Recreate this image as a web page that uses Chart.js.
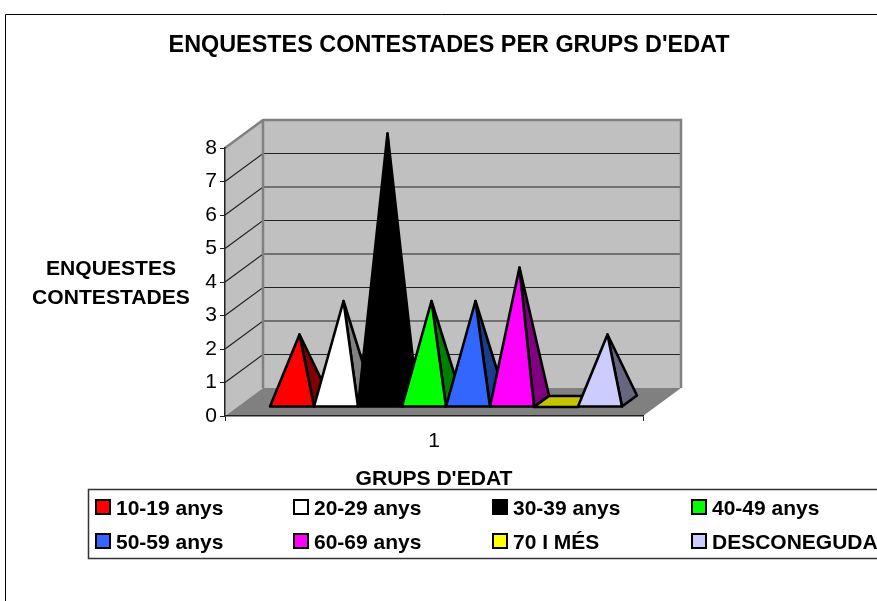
<!DOCTYPE html>
<html>
<head>
<meta charset="utf-8">
<title>Enquestes contestades per grups d'edat</title>
<script src="https://cdn.jsdelivr.net/npm/chart.js@4"></script>
<style>
    html, body { margin: 0; padding: 0; background: #fff; overflow: hidden; }
    canvas { display: block; }
</style>
</head>
<body>
<canvas id="edatChart" width="877" height="601"></canvas>
<script>
// Chart data
const categories = ['1'];
const ageGroups = ['10-19 anys', '20-29 anys', '30-39 anys', '40-49 anys',
                   '50-59 anys', '60-69 anys', '70 I MÉS', 'DESCONEGUDA'];
const responses = [2, 3, 8, 3, 3, 4, 0, 2];
const yTicks = [0, 1, 2, 3, 4, 5, 6, 7, 8];

const chartTitle = "ENQUESTES CONTESTADES PER GRUPS D'EDAT";
const xAxisTitle = "GRUPS D'EDAT";
const yAxisTitle = ['ENQUESTES', 'CONTESTADES'];

// Face colours of each pyramid
const frontColors = ['#FF0000', '#FFFFFF', '#000000', '#00FF00', '#3366FF', '#FF00FF', '#FFFF00', '#CCCCFF'];
const sideColors = ['#800000', '#808080', '#000000', '#008000', '#1A3D8C', '#800080', '#C4C400', '#666680'];

const FONT = '"Liberation Sans", Arial, sans-serif';

// Depth of the fake 3D box and of the pyramids, in pixels
const BOX_DX = 38, BOX_DY = 28;
const PYR_DX = 15, PYR_DY = 11;
const PYR_SHIFT_X = 12, PYR_SHIFT_Y = 9;

function poly(c, pts, fill, stroke, width) {
    c.beginPath();
    pts.forEach((p, i) => i ? c.lineTo(p[0], p[1]) : c.moveTo(p[0], p[1]));
    c.closePath();
    if (fill) { c.fillStyle = fill; c.fill(); }
    if (stroke) { c.strokeStyle = stroke; c.lineWidth = width; c.lineJoin = 'round'; c.stroke(); }
}

// Frame, walls, floor, titles and legend
const boxPlugin = {
    id: 'box3d',
    beforeDraw(chart) {
        const c = chart.ctx, y = chart.scales.y, a = chart.chartArea;
        const l = a.left, r = a.right, t = y.getPixelForValue(8), b = y.getPixelForValue(0);
        c.save();

        // outer frame (only top and left are inside the picture)
        c.strokeStyle = '#000';
        c.lineWidth = 1;
        c.beginPath();
        c.moveTo(5.5, 601);
        c.lineTo(5.5, 14.5);
        c.lineTo(877, 14.5);
        c.stroke();

        // walls
        poly(c, [[l, t], [l + BOX_DX, t - BOX_DY], [l + BOX_DX, b - BOX_DY], [l, b]], '#C0C0C0');
        poly(c, [[l + BOX_DX, t - BOX_DY], [r + BOX_DX, t - BOX_DY], [r + BOX_DX, b - BOX_DY], [l + BOX_DX, b - BOX_DY]], '#C0C0C0');
        poly(c, [[l, b], [l + BOX_DX, b - BOX_DY], [r + BOX_DX, b - BOX_DY], [r, b]], '#808080');

        // gridlines on both walls
        c.strokeStyle = '#222';
        c.lineWidth = 1.2;
        yTicks.slice(1, -1).forEach(v => {
            const py = y.getPixelForValue(v);
            c.beginPath();
            c.moveTo(l, py);
            c.lineTo(l + BOX_DX, py - BOX_DY);
            c.lineTo(r + BOX_DX, py - BOX_DY);
            c.stroke();
        });

        // wall edges
        c.strokeStyle = '#808080';
        c.lineWidth = 2.5;
        c.beginPath();
        c.moveTo(l, t);
        c.lineTo(l + BOX_DX, t - BOX_DY);
        c.lineTo(r + BOX_DX, t - BOX_DY);
        c.lineTo(r + BOX_DX, b - BOX_DY);
        c.moveTo(l + BOX_DX, t - BOX_DY);
        c.lineTo(l + BOX_DX, b - BOX_DY);
        c.stroke();

        // titles
        c.fillStyle = '#000';
        c.textBaseline = 'middle';
        c.textAlign = 'center';
        c.font = 'bold 23.4px ' + FONT;
        c.fillText(chartTitle, 449, 46);
        c.font = 'bold 21.1px ' + FONT;
        c.fillText(yAxisTitle[0], 111, 269);
        c.fillText(yAxisTitle[1], 111, 298);

        // legend
        c.strokeStyle = '#333';
        c.lineWidth = 1.5;
        c.strokeRect(88.5, 489.5, 900, 69);
        c.textAlign = 'left';
        c.font = 'bold 21px ' + FONT;
        const colX = [95, 293, 492, 691], rowY = [507, 541];
        ageGroups.forEach((name, i) => {
            const x = colX[i % 4], ry = rowY[Math.floor(i / 4)];
            c.fillStyle = frontColors[i];
            c.fillRect(x + 1, ry - 7, 14, 14);
            c.strokeStyle = '#000';
            c.lineWidth = 2;
            c.strokeRect(x + 1, ry - 7, 14, 14);
            c.fillStyle = '#000';
            c.fillText(name, x + 21, ry + 2);
        });
        c.restore();
    },
    // pyramids replace the normal bars
    beforeDatasetsDraw(chart) {
        const c = chart.ctx;
        c.save();
        chart.data.datasets.forEach((ds, i) => {
            const bar = chart.getDatasetMeta(i).data[0];
            const x0 = bar.x - bar.width / 2 + PYR_SHIFT_X;
            const x1 = bar.x + bar.width / 2 + PYR_SHIFT_X;
            const by = bar.base - PYR_SHIFT_Y;
            const ax = bar.x + PYR_SHIFT_X + PYR_DX / 2;
            const ay = bar.y - PYR_SHIFT_Y - PYR_DY / 2;
            const backR = [x1 + PYR_DX, by - PYR_DY], backL = [x0 + PYR_DX, by - PYR_DY];
            if (ds.data[0] === 0) {
                // nothing to raise, only the flat top shows
                poly(c, [[x0, by], [x1, by], backR, backL], sideColors[i], '#000', 2.6);
                return;
            }
            poly(c, [[x1, by], backR, [ax, ay]], sideColors[i], '#000', 2.6);
            poly(c, [[x0, by], [x1, by], [ax, ay]], frontColors[i], '#000', 2.6);
        });
        c.restore();
        return false;
    }
};

new Chart(document.getElementById('edatChart'), {
    type: 'bar',
    data: {
        labels: categories,
        datasets: ageGroups.map((name, i) => ({
            label: name,
            data: [responses[i]],
            backgroundColor: frontColors[i],
            barPercentage: 1,
            categoryPercentage: 0.842
        }))
    },
    options: {
        responsive: false,
        animation: false,
        layout: { padding: { left: 165, right: 234, top: 148, bottom: 109 } },
        plugins: {
            legend: { display: false },
            title: { display: false },
            tooltip: { enabled: false }
        },
        scales: {
            x: {
                afterFit(scale) { scale.height = 76; },
                border: { color: '#222', width: 1.5 },
                grid: { drawOnChartArea: false, tickLength: 5, color: '#222' },
                ticks: { color: '#000', padding: 8, font: { family: FONT, size: 21 } },
                title: {
                    display: true,
                    text: xAxisTitle,
                    color: '#000',
                    padding: 0,
                    font: { family: FONT, size: 21.1, weight: 'bold' }
                }
            },
            y: {
                min: 0,
                max: 8,
                afterFit(scale) { scale.width = 60; },
                border: { color: '#222', width: 1.5 },
                grid: { drawOnChartArea: false, tickLength: 5, color: '#222' },
                ticks: {
                    stepSize: 1,
                    color: '#000',
                    padding: 3,
                    font: { family: FONT, size: 21 }
                }
            }
        }
    },
    plugins: [boxPlugin]
});
</script>
</body>
</html>
